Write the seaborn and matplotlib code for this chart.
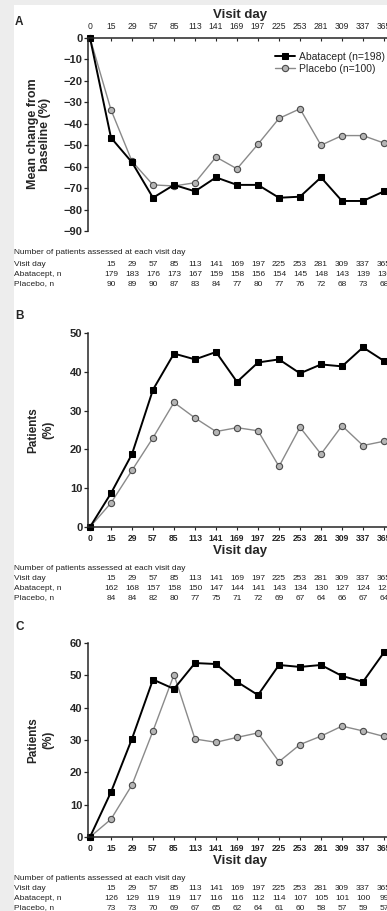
import matplotlib
matplotlib.use('Agg')
import matplotlib.pyplot as plt
import matplotlib.transforms as mtransforms
import matplotlib.patches as mpatches
import numpy as np
import seaborn as sns

# visit days (categorical x axis) and panel values
days = [0, 15, 29, 57, 85, 113, 141, 169, 197, 225, 253, 281, 309, 337, 365]

a_abata = [0, -46.5, -58, -74.5, -68.5, -71.5, -65, -68.5, -68.5, -74.5, -74, -65, -76, -76, -71.5]
a_placebo = [0, -33.5, -57.5, -68.5, -69, -67.5, -55.5, -61, -49.5, -37.5, -33, -50, -45.5, -45.5, -49]

b_abata = [0, 8.7, 18.8, 35.4, 44.7, 43.2, 45.1, 37.4, 42.4, 43.2, 39.6, 41.9, 41.4, 46.3, 42.8]
b_placebo = [0, 6.2, 14.6, 23.0, 32.1, 28.1, 24.6, 25.6, 24.8, 15.6, 25.7, 18.8, 26.1, 21.0, 22.1]

c_abata = [0, 13.9, 30.4, 48.7, 45.8, 53.8, 53.5, 48.0, 43.9, 53.2, 52.6, 53.2, 49.8, 48.0, 57.1]
c_placebo = [0, 5.5, 16.1, 32.8, 50.2, 30.3, 29.3, 30.8, 32.2, 23.3, 28.6, 31.2, 34.3, 32.8, 31.1]

# number of patients assessed at each visit day
n_days = days[1:]
a_n_abata = [179, 183, 176, 173, 167, 159, 158, 156, 154, 145, 148, 143, 139, 136]
a_n_placebo = [90, 89, 90, 87, 83, 84, 77, 80, 77, 76, 72, 68, 73, 68]
b_n_abata = [162, 168, 157, 158, 150, 147, 144, 141, 143, 134, 130, 127, 124, 122]
b_n_placebo = [84, 84, 82, 80, 77, 75, 71, 72, 69, 67, 64, 66, 67, 64]
c_n_abata = [126, 129, 119, 119, 117, 116, 116, 112, 114, 107, 105, 101, 100, 99]
c_n_placebo = [73, 73, 70, 69, 67, 65, 62, 64, 61, 60, 58, 57, 59, 57]

sns.set_theme(style='ticks')
plt.rcParams['font.family'] = ['Liberation Sans', 'DejaVu Sans']
plt.rcParams['axes.linewidth'] = 1.1

W, H = 387, 911
fig = plt.figure(figsize=(W / 100, H / 100), dpi=100, facecolor='#ededed')
fig.add_artist(mpatches.Rectangle((14 / W, 0), 1, 1 - 5 / H, transform=fig.transFigure,
                                  facecolor='white', edgecolor='none', zorder=-5))

pos = np.arange(len(days))


def make_axes(top, bottom):
    return fig.add_axes([87.9 / W, 1 - bottom / H, 304.5 / W, (bottom - top) / H])


def draw(ax, abata, placebo, legend=False):
    sns.lineplot(x=pos, y=placebo, ax=ax, color='#8a8a8a', linewidth=1.0, marker='o',
                 markersize=4.5, markerfacecolor='#b5b5b5', markeredgecolor='#4a4a4a',
                 markeredgewidth=0.8, label='Placebo (n=100)', clip_on=False, legend=False)
    sns.lineplot(x=pos, y=abata, ax=ax, color='black', linewidth=1.4, marker='s',
                 markersize=4.5, markerfacecolor='black', markeredgecolor='black',
                 label='Abatacept (n=198)', clip_on=False, legend=False)
    ax.set_xlim(-0.1, 14.4)
    ax.set_xticks(pos)
    ax.set_xticklabels([str(d) for d in days])
    ax.tick_params(axis='x', labelsize=6.2, length=2.2, width=0.8, pad=3)
    ax.tick_params(axis='y', labelsize=8, length=3, width=0.9, pad=1)
    for lab in ax.get_xticklabels() + ax.get_yticklabels():
        lab.set_fontweight('bold')
    ax.set_facecolor('none')
    if legend:
        h, l = ax.get_legend_handles_labels()
        ax.legend(h[::-1], l[::-1], loc='upper left', bbox_to_anchor=(275 / W, 1 - 52 / H),
                  bbox_transform=fig.transFigure, frameon=False, fontsize=7.5,
                  handlelength=1.9, handletextpad=0.4, labelspacing=0.2,
                  borderpad=0, borderaxespad=0)


def table(ax, rows_y, n_abata, n_placebo):
    tr = mtransforms.blended_transform_factory(ax.transData, fig.transFigure)
    kw = dict(fontsize=6, va='center', color='#222222')
    labels = ['Number of patients assessed at each visit day', 'Visit day',
              'Abatacept, n', 'Placebo, n']
    for y, lab in zip(rows_y, labels):
        fig.text(14 / W, 1 - y / H, lab, ha='left', **kw)
    for vals, y in zip([n_days, n_abata, n_placebo], rows_y[1:]):
        for i, v in enumerate(vals):
            ax.text(i + 1, 1 - y / H, str(v), transform=tr, ha='center', clip_on=False, **kw)


# panel A
axA = make_axes(38, 231)
draw(axA, a_abata, a_placebo, legend=True)
axA.set_ylim(-90, 0)
axA.set_yticks(np.arange(-90, 1, 10))
axA.xaxis.tick_top()
axA.xaxis.set_label_position('top')
axA.tick_params(axis='x', direction='in', pad=5)
axA.spines['bottom'].set_visible(False)
axA.spines['right'].set_visible(False)
axA.set_xlabel('Visit day', fontsize=9.5, fontweight='bold', labelpad=3)
fig.text(39 / W, 1 - 134 / H, 'Mean change from\nbaseline (%)', rotation=90, ha='center',
         va='center', fontsize=9, fontweight='bold', linespacing=0.95)
table(axA, [253, 264, 274, 284], a_n_abata, a_n_placebo)

# panel B
axB = make_axes(333, 527)
draw(axB, b_abata, b_placebo)
axB.set_ylim(0, 50)
axB.set_yticks(np.arange(0, 51, 10))
sns.despine(ax=axB)
axB.set_xlabel('Visit day', fontsize=9.5, fontweight='bold', labelpad=1)
fig.text(41 / W, 1 - 430 / H, 'Patients\n(%)', rotation=90, ha='center', va='center',
         fontsize=8.5, fontweight='bold', linespacing=1.35)
table(axB, [568, 578, 588, 598], b_n_abata, b_n_placebo)

# panel C
axC = make_axes(643, 837)
draw(axC, c_abata, c_placebo)
axC.set_ylim(0, 60)
axC.set_yticks(np.arange(0, 61, 10))
sns.despine(ax=axC)
axC.set_xlabel('Visit day', fontsize=9.5, fontweight='bold', labelpad=1)
fig.text(41 / W, 1 - 740 / H, 'Patients\n(%)', rotation=90, ha='center', va='center',
         fontsize=8.5, fontweight='bold', linespacing=1.35)
table(axC, [878, 888, 898, 908], c_n_abata, c_n_placebo)

for letter, y in zip('ABC', [22, 316, 627]):
    fig.text(15 / W, 1 - y / H, letter, ha='left', va='center', fontsize=8.5, fontweight='bold')

fig.savefig('out.png', dpi=100, facecolor=fig.get_facecolor())
